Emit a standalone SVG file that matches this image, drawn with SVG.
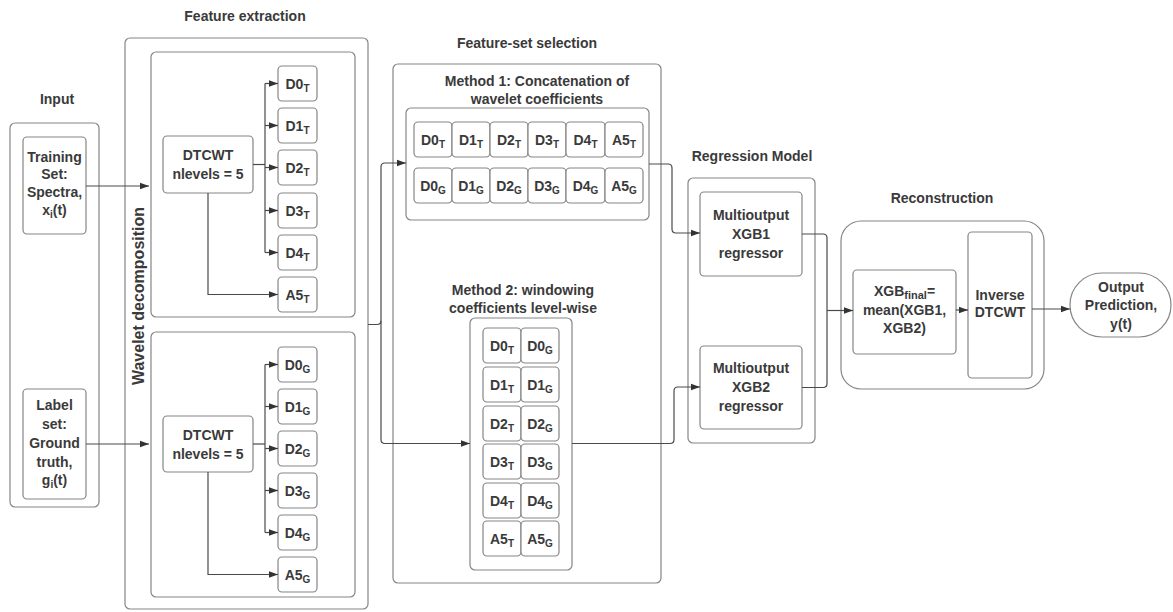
<svg xmlns="http://www.w3.org/2000/svg" width="1173" height="612" viewBox="0 0 1173 612">
<defs>
<style>
.bx{fill:#fff;stroke:#858585;stroke-width:1.2}
.cn{fill:none;stroke:#4a4a4a;stroke-width:1.2;stroke-linejoin:round}
.t{font-family:"Liberation Sans",Arial,sans-serif;font-weight:bold;font-size:14px;fill:#3a3a3a;text-anchor:middle}
.s{font-size:10px}
</style>
<marker id="ar" viewBox="0 0 10 10" refX="10" refY="5" markerWidth="9" markerHeight="9" markerUnits="userSpaceOnUse" orient="auto">
<path d="M0,1.5 L10,5 L0,8.5 z" fill="#333"/>
</marker>
</defs>
<rect width="1173" height="612" fill="#fff"/>

<g id="input">
<text class="t" x="57" y="104">Input</text>
<rect class="bx" x="10" y="123" width="89" height="384" rx="5"/>
<g id="training">
<rect class="bx" x="23" y="137" width="63" height="97" rx="4"/>
<text class="t" x="54.5" y="162">Training</text>
<text class="t" x="54.5" y="179">Set:</text>
<text class="t" x="54.5" y="197">Spectra,</text>
<text class="t" x="54.5" y="215">x<tspan class="s" dy="3">i</tspan><tspan dy="-3">(t)</tspan></text>
</g>
<g id="label">
<rect class="bx" x="23" y="389" width="63" height="110" rx="4"/>
<text class="t" x="54.5" y="410">Label</text>
<text class="t" x="54.5" y="429">set:</text>
<text class="t" x="54.5" y="448">Ground</text>
<text class="t" x="54.5" y="467">truth,</text>
<text class="t" x="54.5" y="485">g<tspan class="s" dy="3">i</tspan><tspan dy="-3">(t)</tspan></text>
</g>
</g>

<g id="feature-extraction">
<text class="t" x="245" y="21">Feature extraction</text>
<rect class="bx" x="125" y="38" width="243" height="571" rx="5"/>
<text class="t" style="font-size:16px" transform="translate(143.5 296) rotate(-90)">Wavelet decomposition</text>
<rect class="bx" x="151" y="52" width="204" height="265" rx="5"/>
<rect class="bx" x="151" y="332" width="204" height="265" rx="5"/>
<g id="dtcwt-t">
<rect class="bx" x="163" y="136" width="90" height="57" rx="4"/>
<text class="t" x="208" y="160">DTCWT</text>
<text class="t" x="208" y="179">nlevels = 5</text>
</g>
<g id="coef-t">
<rect class="bx" x="278" y="66" width="39" height="35" rx="4"/>
<rect class="bx" x="278" y="108" width="39" height="35" rx="4"/>
<rect class="bx" x="278" y="150" width="39" height="35" rx="4"/>
<rect class="bx" x="278" y="193" width="39" height="35" rx="4"/>
<rect class="bx" x="278" y="235" width="39" height="35" rx="4"/>
<rect class="bx" x="278" y="277" width="39" height="35" rx="4"/>
<text class="t" x="297.5" y="88.5">D0<tspan class="s" dy="3">T</tspan></text>
<text class="t" x="297.5" y="130.5">D1<tspan class="s" dy="3">T</tspan></text>
<text class="t" x="297.5" y="172.5">D2<tspan class="s" dy="3">T</tspan></text>
<text class="t" x="297.5" y="215.5">D3<tspan class="s" dy="3">T</tspan></text>
<text class="t" x="297.5" y="257.5">D4<tspan class="s" dy="3">T</tspan></text>
<text class="t" x="297.5" y="299.5">A5<tspan class="s" dy="3">T</tspan></text>
</g>
<g id="dtcwt-g">
<rect class="bx" x="163" y="416" width="90" height="56" rx="4"/>
<text class="t" x="208" y="439.5">DTCWT</text>
<text class="t" x="208" y="458.5">nlevels = 5</text>
</g>
<g id="coef-g">
<rect class="bx" x="278" y="347" width="39" height="35" rx="4"/>
<rect class="bx" x="278" y="389" width="39" height="35" rx="4"/>
<rect class="bx" x="278" y="431" width="39" height="35" rx="4"/>
<rect class="bx" x="278" y="473" width="39" height="35" rx="4"/>
<rect class="bx" x="278" y="515" width="39" height="35" rx="4"/>
<rect class="bx" x="278" y="557" width="39" height="35" rx="4"/>
<text class="t" x="297.5" y="369.5">D0<tspan class="s" dy="3">G</tspan></text>
<text class="t" x="297.5" y="411.5">D1<tspan class="s" dy="3">G</tspan></text>
<text class="t" x="297.5" y="453.5">D2<tspan class="s" dy="3">G</tspan></text>
<text class="t" x="297.5" y="495.5">D3<tspan class="s" dy="3">G</tspan></text>
<text class="t" x="297.5" y="537.5">D4<tspan class="s" dy="3">G</tspan></text>
<text class="t" x="297.5" y="579.5">A5<tspan class="s" dy="3">G</tspan></text>
</g>
</g>

<g id="feature-set-selection">
<text class="t" x="527" y="48">Feature-set selection</text>
<rect class="bx" x="393" y="64" width="268" height="519" rx="5"/>
<g id="method1">
<text class="t" x="537" y="86">Method 1: Concatenation of</text>
<text class="t" x="537" y="104">wavelet coefficients</text>
<rect class="bx" x="406" y="108" width="243" height="112" rx="5"/>
<rect class="bx" x="414" y="122" width="38" height="35" rx="4"/>
<rect class="bx" x="452" y="122" width="38" height="35" rx="4"/>
<rect class="bx" x="490" y="122" width="38" height="35" rx="4"/>
<rect class="bx" x="528" y="122" width="38" height="35" rx="4"/>
<rect class="bx" x="566" y="122" width="39" height="35" rx="4"/>
<rect class="bx" x="605" y="122" width="38" height="35" rx="4"/>
<rect class="bx" x="414" y="168" width="38" height="35" rx="4"/>
<rect class="bx" x="452" y="168" width="38" height="35" rx="4"/>
<rect class="bx" x="490" y="168" width="38" height="35" rx="4"/>
<rect class="bx" x="528" y="168" width="38" height="35" rx="4"/>
<rect class="bx" x="566" y="168" width="39" height="35" rx="4"/>
<rect class="bx" x="605" y="168" width="38" height="35" rx="4"/>
<text class="t" x="433" y="144.5">D0<tspan class="s" dy="3">T</tspan></text>
<text class="t" x="471" y="144.5">D1<tspan class="s" dy="3">T</tspan></text>
<text class="t" x="509" y="144.5">D2<tspan class="s" dy="3">T</tspan></text>
<text class="t" x="547" y="144.5">D3<tspan class="s" dy="3">T</tspan></text>
<text class="t" x="585.5" y="144.5">D4<tspan class="s" dy="3">T</tspan></text>
<text class="t" x="624" y="144.5">A5<tspan class="s" dy="3">T</tspan></text>
<text class="t" x="433" y="190.5">D0<tspan class="s" dy="3">G</tspan></text>
<text class="t" x="471" y="190.5">D1<tspan class="s" dy="3">G</tspan></text>
<text class="t" x="509" y="190.5">D2<tspan class="s" dy="3">G</tspan></text>
<text class="t" x="547" y="190.5">D3<tspan class="s" dy="3">G</tspan></text>
<text class="t" x="585.5" y="190.5">D4<tspan class="s" dy="3">G</tspan></text>
<text class="t" x="624" y="190.5">A5<tspan class="s" dy="3">G</tspan></text>
</g>
<g id="method2">
<text class="t" x="523" y="295">Method 2: windowing</text>
<text class="t" x="523" y="313">coefficients level-wise</text>
<rect class="bx" x="470" y="318" width="102" height="252" rx="5"/>
<rect class="bx" x="483" y="328" width="38" height="35" rx="4"/>
<rect class="bx" x="521" y="328" width="38" height="35" rx="4"/>
<rect class="bx" x="483" y="367" width="38" height="35" rx="4"/>
<rect class="bx" x="521" y="367" width="38" height="35" rx="4"/>
<rect class="bx" x="483" y="406" width="38" height="35" rx="4"/>
<rect class="bx" x="521" y="406" width="38" height="35" rx="4"/>
<rect class="bx" x="483" y="444" width="38" height="35" rx="4"/>
<rect class="bx" x="521" y="444" width="38" height="35" rx="4"/>
<rect class="bx" x="483" y="483" width="38" height="35" rx="4"/>
<rect class="bx" x="521" y="483" width="38" height="35" rx="4"/>
<rect class="bx" x="483" y="521" width="38" height="35" rx="4"/>
<rect class="bx" x="521" y="521" width="38" height="35" rx="4"/>
<text class="t" x="502" y="350.5">D0<tspan class="s" dy="3">T</tspan></text>
<text class="t" x="540" y="350.5">D0<tspan class="s" dy="3">G</tspan></text>
<text class="t" x="502" y="389.5">D1<tspan class="s" dy="3">T</tspan></text>
<text class="t" x="540" y="389.5">D1<tspan class="s" dy="3">G</tspan></text>
<text class="t" x="502" y="428.5">D2<tspan class="s" dy="3">T</tspan></text>
<text class="t" x="540" y="428.5">D2<tspan class="s" dy="3">G</tspan></text>
<text class="t" x="502" y="466.5">D3<tspan class="s" dy="3">T</tspan></text>
<text class="t" x="540" y="466.5">D3<tspan class="s" dy="3">G</tspan></text>
<text class="t" x="502" y="505.5">D4<tspan class="s" dy="3">T</tspan></text>
<text class="t" x="540" y="505.5">D4<tspan class="s" dy="3">G</tspan></text>
<text class="t" x="502" y="543.5">A5<tspan class="s" dy="3">T</tspan></text>
<text class="t" x="540" y="543.5">A5<tspan class="s" dy="3">G</tspan></text>
</g>
</g>

<g id="regression-model">
<text class="t" x="752" y="161">Regression Model</text>
<rect class="bx" x="688" y="178" width="127" height="265" rx="5"/>
<g id="xgb1">
<rect class="bx" x="700" y="192" width="102" height="84" rx="4"/>
<text class="t" x="751" y="220">Multioutput</text>
<text class="t" x="751" y="239">XGB1</text>
<text class="t" x="751" y="258">regressor</text>
</g>
<g id="xgb2">
<rect class="bx" x="700" y="346" width="102" height="83" rx="4"/>
<text class="t" x="751" y="373">Multioutput</text>
<text class="t" x="751" y="392">XGB2</text>
<text class="t" x="751" y="411">regressor</text>
</g>
</g>

<g id="reconstruction">
<text class="t" x="942" y="203">Reconstruction</text>
<rect class="bx" x="841" y="221" width="203" height="168" rx="20"/>
<g id="xgb-final">
<rect class="bx" x="853" y="270" width="103" height="84" rx="4"/>
<text class="t" x="904.5" y="296">XGB<tspan class="s" style="font-size:11px" dy="3">final</tspan><tspan dy="-3">=</tspan></text>
<text class="t" x="904.5" y="315">mean(XGB1,</text>
<text class="t" x="904.5" y="333">XGB2)</text>
</g>
<g id="inverse">
<rect class="bx" x="968" y="232" width="64" height="146" rx="4"/>
<text class="t" x="1000" y="300">Inverse</text>
<text class="t" x="1000" y="317">DTCWT</text>
</g>
</g>

<g id="output">
<rect class="bx" x="1070" y="273" width="101" height="64" rx="32"/>
<text class="t" x="1121" y="292">Output</text>
<text class="t" x="1121" y="310">Prediction,</text>
<text class="t" x="1121" y="329">y(t)</text>
</g>

<g id="connectors">
<path class="cn" d="M86 186 H149" marker-end="url(#ar)"/>
<path class="cn" d="M86 444 H149" marker-end="url(#ar)"/>
<path class="cn" d="M253 164.5 H265"/>
<path class="cn" d="M265 83.5 V252.5"/>
<path class="cn" d="M265 83.5 H278" marker-end="url(#ar)"/>
<path class="cn" d="M265 125.5 H278" marker-end="url(#ar)"/>
<path class="cn" d="M265 167.5 H278" marker-end="url(#ar)"/>
<path class="cn" d="M265 210.5 H278" marker-end="url(#ar)"/>
<path class="cn" d="M265 252.5 H278" marker-end="url(#ar)"/>
<path class="cn" d="M208 193 V294.5 H278" marker-end="url(#ar)"/>
<path class="cn" d="M253 444 H265"/>
<path class="cn" d="M265 364.5 V532.5"/>
<path class="cn" d="M265 364.5 H278" marker-end="url(#ar)"/>
<path class="cn" d="M265 406.5 H278" marker-end="url(#ar)"/>
<path class="cn" d="M265 448.5 H278" marker-end="url(#ar)"/>
<path class="cn" d="M265 490.5 H278" marker-end="url(#ar)"/>
<path class="cn" d="M265 532.5 H278" marker-end="url(#ar)"/>
<path class="cn" d="M208 472 V574.5 H278" marker-end="url(#ar)"/>
<path class="cn" d="M368 324.5 H377 Q381 324.5 381 320.5"/>
<path class="cn" d="M381 320.5 V167 Q381 163 385 163 H406" marker-end="url(#ar)"/>
<path class="cn" d="M381 320.5 V439.5 Q381 443.5 385 443.5 H470" marker-end="url(#ar)"/>
<path class="cn" d="M649 164 H668 Q672 164 672 168 V229 Q672 233 676 233 H700" marker-end="url(#ar)"/>
<path class="cn" d="M572 443.5 H670 Q674 443.5 674 439.5 V391 Q674 387 678 387 H700" marker-end="url(#ar)"/>
<path class="cn" d="M802 234 H823 Q827 234 827 238 V383.5 Q827 387.5 823 387.5 H802"/>
<path class="cn" d="M827 310.5 H853" marker-end="url(#ar)"/>
<path class="cn" d="M956 310 H968" marker-end="url(#ar)"/>
<path class="cn" d="M1032 309 H1070" marker-end="url(#ar)"/>
</g>
</svg>
